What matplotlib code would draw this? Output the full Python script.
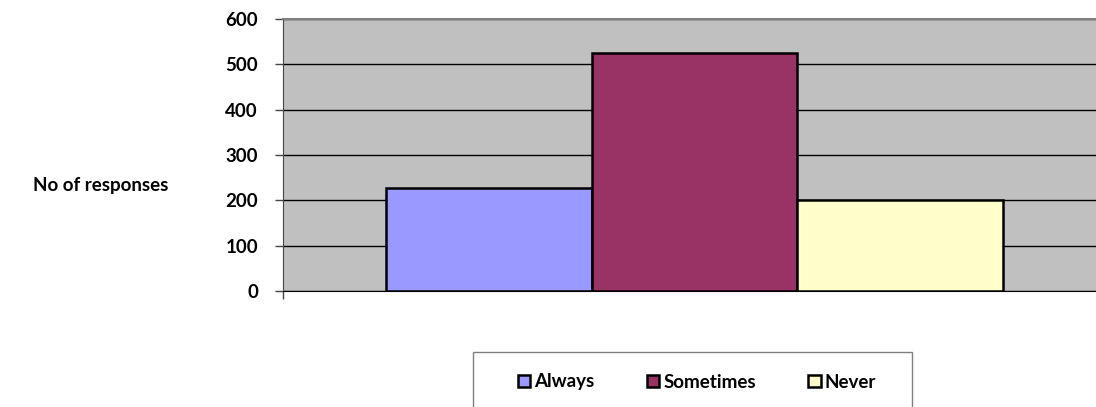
import matplotlib.pyplot as plt
from matplotlib.patches import Rectangle

categories = ["Always", "Sometimes", "Never"]
responses = [228, 524, 201]
colors = ["#9999FF", "#993366", "#FFFFCC"]
yticks = [0, 100, 200, 300, 400, 500, 600]

plt.rcParams['font.family'] = ['Lato', 'DejaVu Sans']
plt.rcParams['font.weight'] = 'bold'
FS = 13.5

fig = plt.figure(figsize=(10.96, 4.07), dpi=100)
ax = fig.add_axes([283 / 1096, 116 / 407, 823 / 1096, 272 / 407])
ax.set_facecolor("#C0C0C0")

bars = []
for i, (cat, val, col) in enumerate(zip(categories, responses, colors)):
    b = ax.bar(i, val, width=1.0, color=col, edgecolor="black", linewidth=1.8,
               label=cat, zorder=3)
    bars.append(b)

ax.set_xlim(-1, 3)
ax.set_ylim(0, 600)
ax.set_yticks(yticks)
ax.set_yticklabels([str(t) for t in yticks], fontsize=FS, fontweight='bold')
ax.yaxis.grid(True, color="black", linewidth=1.0, zorder=1)
ax.set_axisbelow(True)
ax.tick_params(axis='y', direction='out', length=6, width=1, color="#444444", pad=12)
ax.set_xticks([-1])
ax.set_xticklabels([""])
ax.tick_params(axis='x', direction='out', length=6, width=1, color="#444444")

ax.spines["right"].set_visible(False)
ax.spines["top"].set_color("#808080")
ax.spines["top"].set_linewidth(1.5)
ax.spines["left"].set_color("#444444")
ax.spines["bottom"].set_color("black")

fig.text(168 / 1096, 1 - 186 / 407, "No of responses", fontsize=FS,
         fontweight='bold', ha='right', va='center')

# legend box (runs off the bottom of the image)
fig.patches.append(Rectangle((473 / 1096, -0.1), (912 - 473) / 1096, 0.1 + 55 / 407,
                             transform=fig.transFigure, facecolor="white",
                             edgecolor="#808080", linewidth=1.0))
leg = fig.legend(handles=[b[0] for b in bars], labels=categories, ncol=3,
                 loc='center', bbox_to_anchor=(697 / 1096, 1 - 382 / 407),
                 frameon=False, fontsize=FS, handlelength=0.65, handleheight=0.65,
                 handletextpad=0.22, columnspacing=2.8)
for t in leg.get_texts():
    t.set_fontweight('bold')

fig.savefig("out.png", dpi=100)
